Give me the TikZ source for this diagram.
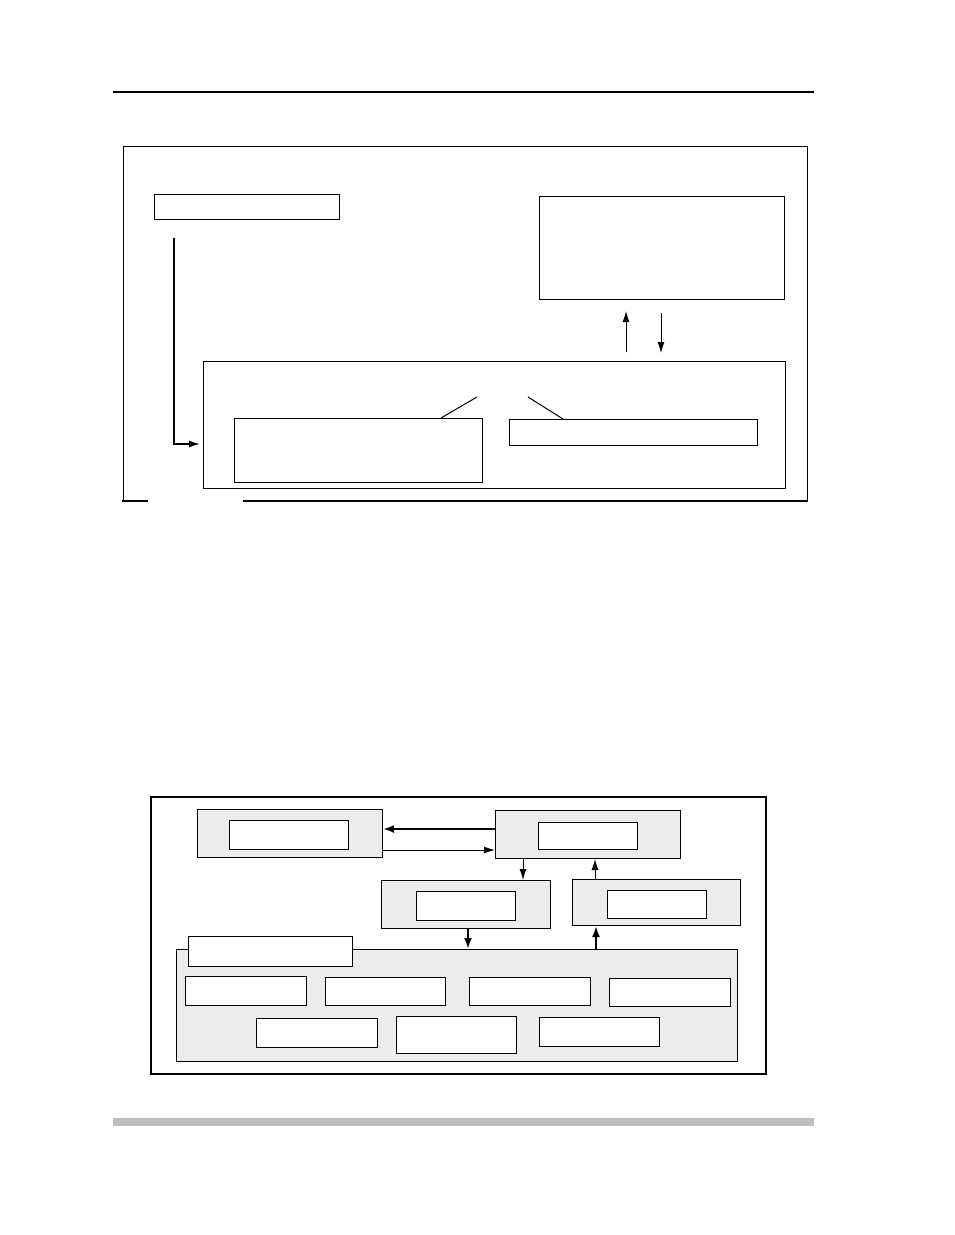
\documentclass[tikz,border=0pt]{standalone}
\usepackage{tikz}
\usetikzlibrary{arrows, arrows.meta, positioning, calc}
\definecolor{panel}{RGB}{236,236,236}
\definecolor{barcol}{RGB}{190,190,190}
\begin{document}
\begin{tikzpicture}[x=1pt, y=-1pt,
box/.style={rectangle, draw, line width=1pt, fill=white, inner sep=0pt, anchor=north west},
panelbox/.style={box, fill=panel},
conn/.style={line width=1pt, -{Latex[length=11pt,width=7pt]}},
bold conn/.style={line width=2pt, -{Latex[length=11pt,width=8pt]}}]
\useasboundingbox (0,0) rectangle (954,1235);
% page rules
\draw[line width=2pt] (113,92) -- (814,92);
\fill[barcol] (113,1118) rectangle (814,1126);

% upper figure
\draw[line width=1pt] (123,501) -- (123,146) -- (807,146) -- (807,501);
\draw[line width=2pt] (122,501) -- (148,501);
\draw[line width=2pt] (243,501) -- (808,501);
\node[box, minimum width=185, minimum height=25] (Src) at (154,194) {};
\node[box, minimum width=245, minimum height=103] (Store) at (539,196) {};
\node[box, minimum width=582, minimum height=127] (Core) at (203,361) {};
\node[box, minimum width=248, minimum height=64] (Left) at (234,418) {};
\node[box, minimum width=248, minimum height=26] (Right) at (509,419) {};
\coordinate (SrcFoot) at (174,238);
\draw[line width=1.5pt, -{Latex[length=11pt,width=7pt]}] (SrcFoot) |- ($(Core.west |- 0,444)+(-3,0)$);
\draw[conn] ($(Core.north -| 626,0)+(0,-9)$) -- ($(Store.south -| 626,0)+(0,11)$);
\draw[conn] ($(Store.south -| 661,0)+(0,13)$) -- ($(Core.north -| 661,0)+(0,-8)$);
\draw[line width=1pt] (Left.north -| 441,0) -- (477,397);
\draw[line width=1pt] (528,397) -- (Right.north -| 563,0);

% lower figure
\draw[line width=2pt] (151,797) rectangle (766,1074);
\node[panelbox, minimum width=185, minimum height=48] (Host) at (197,809) {};
\node[box, minimum width=119, minimum height=29] (HostIn) at (229,820) {};
\node[panelbox, minimum width=185, minimum height=48] (Ctrl) at (495,810) {};
\node[box, minimum width=99, minimum height=27] (CtrlIn) at (538,822) {};
\node[panelbox, minimum width=169, minimum height=48] (Out) at (381,880) {};
\node[box, minimum width=99, minimum height=29] (OutIn) at (416,891) {};
\node[panelbox, minimum width=168, minimum height=46] (In) at (572,879) {};
\node[box, minimum width=99, minimum height=28] (InIn) at (607,890) {};
\node[panelbox, minimum width=561, minimum height=112] (Bus) at (176,949) {};
\node[box, minimum width=164, minimum height=30] (BusTag) at (188,936) {};
\foreach \n/\x/\y/\w/\h in {U1/185/976/121/29, U2/325/977/120/28, U3/469/977/121/28, U4/609/978/121/28,
  L1/256/1018/121/29, L2/396/1016/120/37, L3/539/1017/120/29}
  \node[box, minimum width=\w, minimum height=\h] (\n) at (\x,\y) {};
\draw[bold conn] (Ctrl.west |- 0,829) -- (Host.east |- 0,829);
\draw[conn] (Host.east |- 0,850) -- (Ctrl.west |- 0,850);
\draw[conn] (Ctrl.south -| 523,0) -- (Out.north -| 523,0);
\draw[conn] (In.north -| 595,0) -- (Ctrl.south -| 595,0);
\draw[bold conn] (Out.south -| 468,0) -- (Bus.north -| 468,0);
\draw[bold conn] (Bus.north -| 596,0) -- (In.south -| 596,0);
\end{tikzpicture}
\end{document}
